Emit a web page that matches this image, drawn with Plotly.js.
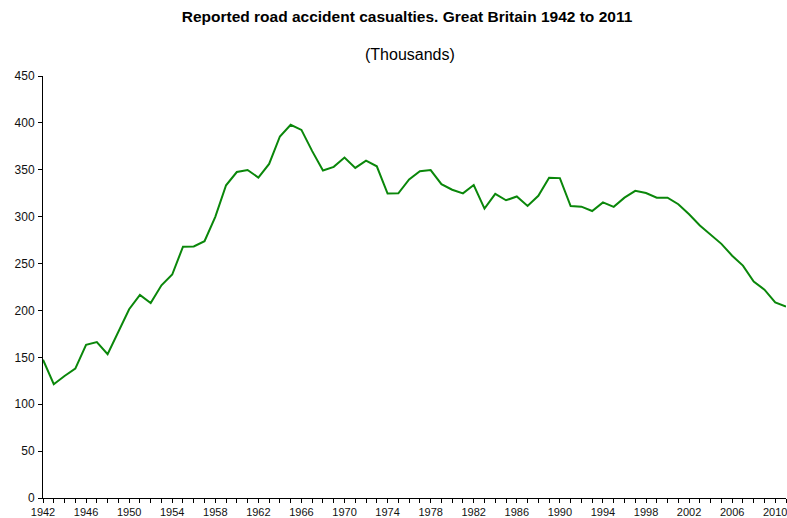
<!DOCTYPE html>
<html>
<head>
<meta charset="utf-8">
<script src="https://cdn.plot.ly/plotly-3.0.1.min.js"></script>
<style>
html, body { margin: 0; padding: 0; background: #fff; }
#chart { width: 787px; height: 518px; }
</style>
</head>
<body>
<div id="chart"></div>
<script>
// Reported road accident casualties, Great Britain (thousands)
var years = [1942,1943,1944,1945,1946,1947,1948,1949,1950,1951,1952,1953,1954,1955,1956,1957,1958,1959,1960,1961,
             1962,1963,1964,1965,1966,1967,1968,1969,1970,1971,1972,1973,1974,1975,1976,1977,1978,1979,1980,1981,
             1982,1983,1984,1985,1986,1987,1988,1989,1990,1991,1992,1993,1994,1995,1996,1997,1998,1999,2000,2001,
             2002,2003,2004,2005,2006,2007,2008,2009,2010,2011];
var casualties = [147.5,121.3,130.1,138.0,163.3,166.2,153.4,177.0,201.3,216.5,208.0,226.8,238.3,268.0,268.3,273.9,299.8,333.5,347.6,349.8,
                  341.7,356.2,385.5,398.0,392.5,369.9,349.2,353.1,363.0,352.0,359.8,353.7,324.7,324.9,339.7,348.4,349.7,334.6,328.7,324.8,
                  333.7,308.6,324.3,317.5,321.5,311.5,322.3,341.6,341.1,311.3,310.7,306.0,315.2,310.5,320.3,327.5,325.2,320.3,320.3,313.3,
                  302.6,290.6,280.8,271.0,258.4,247.8,230.9,222.1,208.6,204.0];
var titleText = "Reported road accident casualties. Great Britain 1942 to 2011";
var subtitleText = "(Thousands)";

var font = "Liberation Sans, Arial, sans-serif";

var trace = {
  x: years,
  y: casualties,
  type: "scatter",
  mode: "lines",
  line: { color: "#0a870a", width: 2 },
  hoverinfo: "x+y"
};

var layout = {
  width: 787,
  height: 518,
  margin: { l: 43, r: 1, t: 76, b: 20 },
  paper_bgcolor: "#ffffff",
  plot_bgcolor: "#ffffff",
  showlegend: false,
  font: { family: font, size: 11, color: "#111" },
  title: {
    text: "<b>" + titleText + "</b>",
    font: { family: font, size: 15.5, color: "#000" },
    xref: "container", x: 407 / 787, xanchor: "center",
    yref: "container", y: 1 - 17 / 518, yanchor: "middle"
  },
  annotations: [{
    text: subtitleText,
    xref: "paper", yref: "paper",
    x: (410 - 43) / 743, y: 1 + (76 - 54) / 422,
    xanchor: "center", yanchor: "middle",
    showarrow: false,
    font: { family: font, size: 16, color: "#000" }
  }],
  xaxis: {
    range: [1942, 2011],
    tickmode: "linear", tick0: 1942, dtick: 4,
    ticks: "outside", ticklen: 4, tickwidth: 1, tickcolor: "#000",
    minor: { dtick: 1, tick0: 1942, ticks: "outside", ticklen: 4, tickwidth: 1, tickcolor: "#000", showgrid: false },
    showline: true, linecolor: "#000", linewidth: 1,
    showgrid: false, zeroline: false,
    tickfont: { family: font, size: 11, color: "#111" },
    ticklabeloverflow: "allow",
    ticklabelstandoff: 0
  },
  yaxis: {
    range: [0, 450],
    tickmode: "linear", tick0: 0, dtick: 50,
    ticks: "outside", ticklen: 4, tickwidth: 1, tickcolor: "#000",
    showline: true, linecolor: "#000", linewidth: 1,
    showgrid: false, zeroline: false,
    tickfont: { family: font, size: 12, color: "#111" },
    ticklabelstandoff: 1
  }
};

Plotly.newPlot("chart", [trace], layout, { displayModeBar: false, staticPlot: true });
</script>
</body>
</html>
